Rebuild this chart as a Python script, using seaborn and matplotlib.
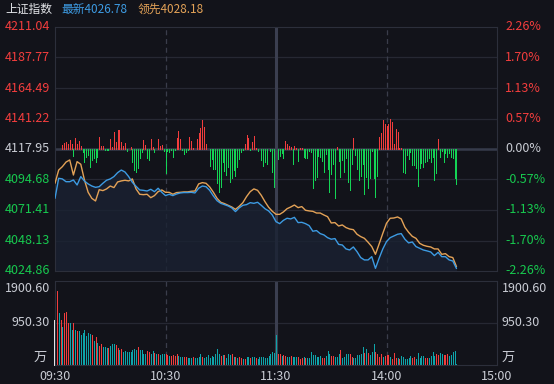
import numpy as np
import matplotlib
matplotlib.use("Agg")
import matplotlib.pyplot as plt
import seaborn as sns

# ---------------- data ----------------
prev_close = 4117.95
latest_last = 4026.78
leading_last = 4028.18
price_ticks = [4211.04, 4187.77, 4164.49, 4141.22, 4117.95, 4094.68, 4071.41, 4048.13, 4024.86]
pct_labels = ["2.26%", "1.70%", "1.13%", "0.57%", "0.00%", "-0.57%", "-1.13%", "-1.70%", "-2.26%"]
vol_ticks = [1900.60, 950.30]
time_labels = ["09:30", "10:30", "11:30", "14:00", "15:00"]
time_minutes = [0, 60, 120, 180, 240]

# trading minutes since 09:30 (every 2 minutes) for the two price lines
line_minutes = list(range(0, 219, 2))
latest = [4080.3, 4095.6, 4095.1, 4093.0, 4093.0, 4094.3, 4090.5, 4096.9, 4093.5, 4091.3,
          4089.7, 4088.7, 4089.2, 4091.8, 4094.1, 4095.1, 4096.9, 4099.9, 4101.9, 4100.4,
          4096.9, 4092.5, 4089.5, 4086.7, 4086.4, 4085.9, 4087.2, 4085.4, 4088.0, 4084.9,
          4082.4, 4083.4, 4082.4, 4083.6, 4084.4, 4084.7, 4084.7, 4084.9, 4084.4, 4088.0,
          4089.7, 4089.2, 4086.4, 4082.1, 4078.5, 4076.5, 4075.5, 4074.5, 4073.0, 4070.2,
          4073.0, 4075.0, 4075.5, 4077.0, 4076.5, 4077.3, 4075.0, 4072.4, 4070.7, 4067.6,
          4062.5, 4061.0, 4063.5, 4065.1, 4064.6, 4065.8, 4061.8, 4062.0, 4061.0, 4059.5,
          4055.2, 4055.7, 4053.4, 4052.4, 4050.3, 4049.1, 4049.6, 4045.2, 4044.7, 4041.7,
          4040.9, 4043.2, 4039.6, 4035.1, 4033.3, 4033.3, 4035.8, 4026.9, 4034.6, 4041.7,
          4047.3, 4050.3, 4051.6, 4052.9, 4053.4, 4049.1, 4046.3, 4047.0, 4043.5, 4042.2,
          4040.9, 4040.2, 4039.4, 4036.6, 4039.1, 4035.8, 4035.8, 4033.3, 4032.5, 4026.78]
leading = [4091.8, 4101.9, 4104.5, 4108.0, 4109.6, 4098.1, 4108.3, 4106.3, 4094.3, 4084.9,
           4080.3, 4078.3, 4086.9, 4086.2, 4087.5, 4089.7, 4088.5, 4092.8, 4093.6, 4094.1,
           4093.6, 4095.1, 4087.5, 4083.4, 4083.1, 4083.4, 4080.8, 4082.4, 4085.4, 4086.7,
           4084.9, 4084.9, 4083.4, 4084.7, 4084.9, 4085.2, 4085.2, 4085.7, 4085.9, 4091.3,
           4092.3, 4091.8, 4089.0, 4084.9, 4080.3, 4077.3, 4076.3, 4075.0, 4073.7, 4071.9,
           4074.2, 4077.0, 4081.6, 4085.4, 4087.5, 4086.4, 4082.6, 4077.8, 4073.5, 4070.4,
           4068.1, 4068.1, 4069.9, 4072.4, 4073.7, 4075.2, 4073.2, 4074.0, 4071.2, 4070.7,
           4070.4, 4069.1, 4069.1, 4067.6, 4066.3, 4061.5, 4061.8, 4059.2, 4060.0, 4058.0,
           4056.9, 4056.4, 4052.9, 4051.1, 4049.8, 4046.8, 4043.5, 4037.6, 4045.5, 4053.6,
           4061.3, 4065.1, 4065.3, 4066.1, 4064.6, 4058.2, 4054.4, 4051.3, 4049.8, 4046.0,
           4044.5, 4043.7, 4043.2, 4041.7, 4041.7, 4037.6, 4038.1, 4035.8, 4035.1, 4028.18]

# per-minute red/green strength bars around the previous close (index points)
strength = [-3.3, 0, 0, 0, 3.1, 4.3, 5.6, 3.6, 6.9, 3.6,
            -5.1, 8.1, 3.6, 6.4, 2.5, -2.0, -9.7, -5.8, -4.6, -13.5,
            -8.4, -7.1, -9.7, -5.8, 8.9, 2.3, 2.3, -1.0, -1.0, -0.5,
            7.4, 1.8, 13.2, 5.6, 14.5, 14.5, 5.6, 2.5, 4.3, -1.5,
            0, 1.5, -9.7, -16.0, -17.3, -14.7, -7.1, -2.0, 6.9, 3.1,
            -7.1, -8.6, 7.4, 1.8, -2.0, -0.3, 7.4, 2.3, 3.1, -1.5,
            -18.6, -1.5, -2.0, -1.0, -5.8, -1.0, 8.1, 13.7, 7.6, -1.0,
            -3.6, -2.0, -0.5, 9.2, 6.1, 1.0, 0, 7.6, 11.9, 16.3,
            22.1, 16.8, 4.1, 0, -12.7, -7.9, -15.3, -15.3, -26.2, -33.1,
            -28.7, -9.7, -16.8, -19.8, -14.0, -24.9, -22.4, -16.0, -20.3, -13.5,
            -7.9, -2.0, -0.5, 3.6, 10.7, 8.6, -0.5, 5.1, 9.7, 0.5,
            -1.5, 0, -8.4, -13.0, -10.2, -11.7, 0, -1.5, -17.3, -28.7,
            0, -7.9, -5.1, -2.8, -7.1, 6.1, 3.6, 2.5, 1.5, -11.7,
            2.0, 1.0, -8.9, 0.5, 0.8, -5.8, -6.6, -6.6, -1.5, -2.5,
            -29.7, -23.6, -21.1, -5.1, -6.4, -9.2, -17.3, -4.1, -15.5, -33.1,
            -19.3, -11.2, -37.1, 1.8, -9.2, -21.1, -8.4, -17.8, -7.1, -24.9,
            -31.3, -11.7, 8.6, -4.6, -15.5, -23.6, -20.6, -11.7, -34.1, -21.1,
            -29.5, -21.9, -1.5, -22.4, -36.4, -20.6, 9.4, 12.5, 22.4, 18.8,
            17.8, 18.8, 22.9, 20.3, 3.6, 15.3, 12.7, 0.5, 0.5, -17.3,
            -18.6, -4.6, -7.9, -2.5, -12.2, -12.2, -14.7, -27.9, -14.7, -10.9,
            -13.5, -9.7, -9.2, -7.1, -9.7, -5.8, -23.6, -18.6, 7.6, -5.8,
            -1.5, -9.7, -2.8, -5.8, -3.3, -5.8, -7.1, -21.9, -26.7]

# per-minute volume (万) and whether the minute closed up (1 red) or down (0 teal)
auction_volume = 1022
volume = [1900.6, 1681, 1181, 1022, 863, 1181, 1204, 939, 939, 795,
          939, 795, 780, 772, 681, 727, 795, 666, 727, 704,
          681, 545, 636, 492, 439, 477, 409, 409, 386, 386,
          439, 477, 477, 447, 386, 341, 356, 295, 318, 295,
          295, 295, 341, 363, 341, 409, 341, 341, 250, 250,
          318, 295, 250, 318, 273, 250, 250, 227, 250, 250,
          250, 227, 204, 204, 227, 204, 250, 204, 182, 182,
          182, 182, 159, 159, 159, 182, 159, 159, 182, 250,
          182, 167, 182, 227, 159, 204, 182, 250, 363, 250,
          204, 227, 227, 159, 250, 227, 250, 182, 182, 159,
          182, 167, 136, 136, 182, 182, 159, 182, 182, 159,
          136, 182, 182, 182, 159, 159, 204, 250, 295, 280,
          681, 250, 250, 204, 227, 204, 182, 182, 204, 182,
          182, 182, 182, 136, 159, 182, 159, 159, 159, 295,
          227, 227, 182, 182, 204, 159, 159, 204, 318, 250,
          204, 204, 182, 182, 250, 341, 159, 182, 250, 250,
          250, 182, 159, 159, 227, 227, 250, 409, 273, 363,
          273, 227, 295, 477, 295, 250, 182, 250, 182, 204,
          227, 227, 182, 136, 273, 159, 159, 136, 204, 182,
          136, 136, 159, 204, 159, 182, 136, 273, 159, 204,
          204, 159, 159, 159, 204, 295, 204, 250, 227, 273,
          250, 227, 227, 250, 204, 227, 295, 318, 23]
vol_up = [1, 1, 0, 1, 0, 1, 1, 1, 0, 0,
          1, 0, 1, 0, 0, 0, 0, 0, 0, 0,
          1, 0, 1, 0, 1, 1, 0, 0, 0, 1,
          0, 0, 0, 1, 1, 0, 1, 0, 0, 0,
          0, 0, 0, 0, 0, 1, 0, 0, 0, 0,
          1, 1, 0, 0, 1, 0, 1, 0, 0, 0,
          1, 1, 0, 1, 1, 1, 1, 0, 0, 0,
          1, 1, 0, 0, 0, 1, 0, 0, 0, 0,
          1, 0, 0, 0, 0, 0, 0, 0, 0, 0,
          1, 0, 1, 0, 0, 0, 1, 0, 1, 0,
          1, 1, 0, 1, 0, 0, 1, 0, 0, 1,
          0, 0, 0, 0, 0, 0, 0, 0, 0, 0,
          0, 1, 1, 0, 1, 1, 0, 0, 1, 0,
          0, 0, 1, 1, 1, 0, 1, 0, 0, 0,
          0, 0, 0, 0, 0, 1, 1, 0, 0, 0,
          1, 1, 0, 0, 0, 1, 0, 0, 0, 0,
          1, 1, 0, 0, 0, 0, 0, 0, 1, 0,
          1, 0, 0, 0, 1, 1, 1, 1, 0, 1,
          1, 1, 0, 1, 1, 1, 0, 1, 0, 0,
          0, 0, 0, 0, 1, 1, 0, 0, 0, 0,
          0, 1, 1, 0, 0, 0, 0, 1, 1, 0,
          0, 1, 1, 1, 0, 0, 0, 0, 0]

# ---------------- style ----------------
BG = "#12131a"
GRID = "#262833"
FRAME = "#2c2f3b"
RED = "#f23d3d"
GREEN = "#17c94f"
BAR_GREEN = "#14d455"
TEAL = "#0ea5aa"
BLUE = "#3d9be3"
ORANGE = "#e3a257"
GREYTXT = "#c9ccd4"

sns.set_theme(style="dark", rc={"axes.facecolor": BG, "figure.facecolor": BG})
plt.rcParams["font.family"] = ["Noto Sans CJK SC", "DejaVu Sans"]

W, H = 554, 384
fig = plt.figure(figsize=(W / 100, H / 100), dpi=100, facecolor=BG)
L, R = 55, 497
ax = fig.add_axes([L / W, 1 - 271 / H, (R - L) / W, 244 / H])
axv = fig.add_axes([L / W, 1 - 365 / H, (R - L) / W, 84 / H])

for a in (ax, axv):
    a.set_facecolor(BG)
    a.set_xlim(0, 240)
    a.set_xticks([])
    a.set_yticks([])
    a.grid(False)
    for s in a.spines.values():
        s.set_color(FRAME)
        s.set_linewidth(0.8)

# ---------------- main panel ----------------
ymin, ymax = price_ticks[-1], price_ticks[0]
ax.set_ylim(ymin, ymax)
for p in price_ticks[1:-1]:
    ax.axhline(p, color=GRID, lw=0.9, zorder=1)
ax.axhline(prev_close, color="#363b4b", lw=1.8, zorder=1)
for m in (60, 180):
    ax.axvline(m, color="#3a3d4b", lw=0.9, ls=(0, (4, 3)), zorder=1)
ax.axvline(120, color="#3b3f50", lw=2.2, zorder=1)

ax.fill_between(line_minutes, latest, ymin, color="#1a2232", alpha=0.8, lw=0, zorder=1.5)

mins = np.arange(len(strength))
sv = np.array(strength)
nz = sv != 0
ax.vlines(mins[nz], prev_close, prev_close + sv[nz],
          colors=[RED if v > 0 else BAR_GREEN for v in sv[nz]],
          lw=0.6, antialiased=False, zorder=2)

sns.lineplot(x=line_minutes, y=leading, ax=ax, color=ORANGE, lw=1.0, zorder=3)
sns.lineplot(x=line_minutes, y=latest, ax=ax, color=BLUE, lw=1.0, zorder=4)
ax.set_xlabel("")
ax.set_ylabel("")

ytr = ax.get_yaxis_transform()
for p, pl in zip(price_ticks, pct_labels):
    c = RED if p > prev_close + 0.01 else (GREYTXT if abs(p - prev_close) < 0.01 else GREEN)
    ax.text(-5 / (R - L), p, f"{p:.2f}", transform=ytr, ha="right", va="center",
            color=c, fontsize=9)
    ax.text(1 + 8 / (R - L), p, pl, transform=ytr, ha="left", va="center",
            color=c, fontsize=9)

# ---------------- volume panel ----------------
axv.set_ylim(0, vol_ticks[0])
axv.axhline(vol_ticks[1], color=GRID, lw=0.9, zorder=1)
for m in (60, 180):
    axv.axvline(m, color="#3a3d4b", lw=0.9, ls=(0, (4, 3)), zorder=1)
axv.axvline(120, color="#3b3f50", lw=2.2, zorder=1)

vm = np.arange(len(volume))
axv.vlines(vm, 0, volume, colors=[RED if u else TEAL for u in vol_up],
           lw=0.72, antialiased=False, zorder=2)
axv.vlines([-0.4], 0, [auction_volume], colors="#f0f0f0", lw=0.6,
           antialiased=False, zorder=2, clip_on=False)

for a_x, ha in ((-5 / (R - L), "right"), (1 + 5 / (R - L), "left")):
    axv.text(a_x, 1 - 8 / 84, f"{vol_ticks[0]:.2f}", transform=axv.transAxes,
             ha=ha, va="center", color=GREYTXT, fontsize=9)
    axv.text(a_x, vol_ticks[1], f"{vol_ticks[1]:.2f}", transform=axv.get_yaxis_transform(),
             ha=ha, va="center", color=GREYTXT, fontsize=9)
    axv.text(a_x if ha == "left" else -8 / (R - L), 8 / 84, "万", transform=axv.transAxes,
             ha=ha, va="center", color=GREYTXT, fontsize=9.5)

# time labels
for m, t in zip(time_minutes, time_labels):
    axv.text(m, -12 / 84, t, transform=axv.get_xaxis_transform(), ha="center",
             va="center", color=GREYTXT, fontsize=9)

# ---------------- header ----------------
fig.text(5 / W, 1 - 9 / H, "上证指数", color="#e4e6ea", fontsize=8.5, va="center", ha="left")
fig.text(61 / W, 1 - 9 / H, f"最新{latest_last:.2f}", color=BLUE, fontsize=8.5, va="center", ha="left")
fig.text(138 / W, 1 - 9 / H, f"领先{leading_last:.2f}", color=ORANGE, fontsize=8.5, va="center", ha="left")

fig.savefig("out.png", dpi=100, facecolor=BG)
